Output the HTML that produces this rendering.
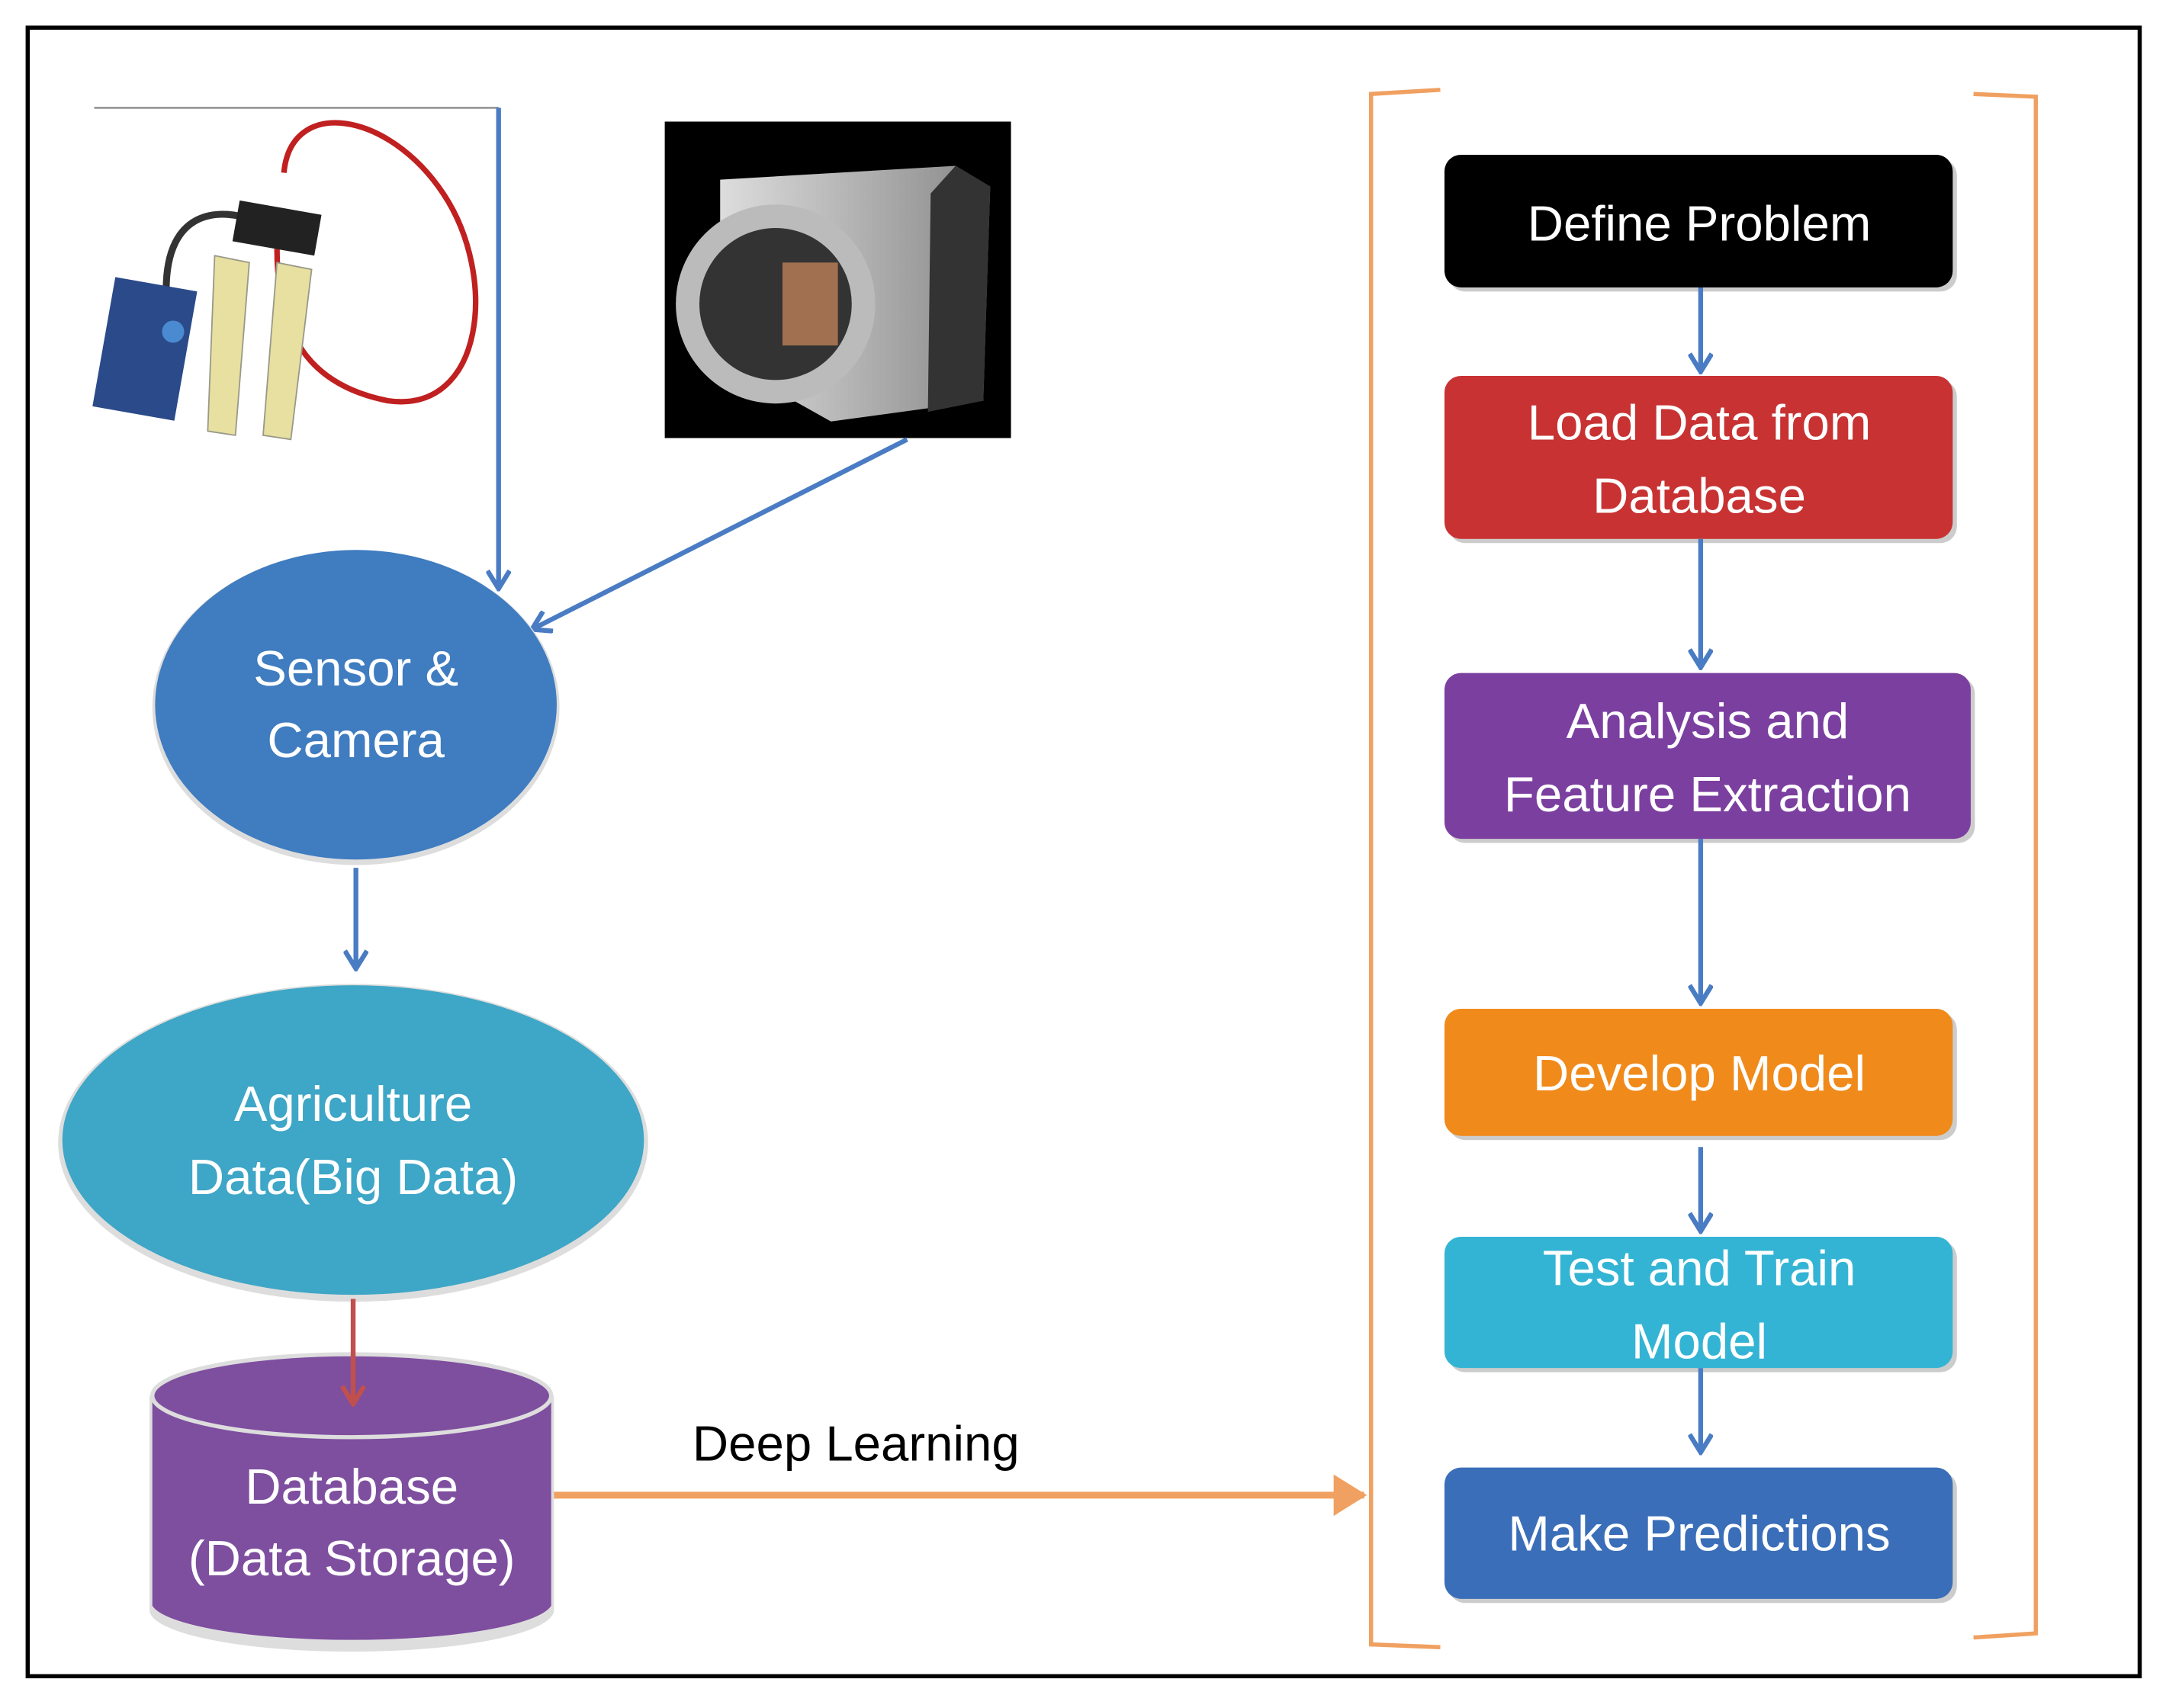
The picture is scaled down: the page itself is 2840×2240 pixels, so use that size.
<!DOCTYPE html>
<html><head><meta charset="utf-8"><style>
html,body{margin:0;padding:0;background:#fff;}
svg{display:block;}
text{font-family:"Liberation Sans",sans-serif;}
</style></head><body>
<svg width="2840" height="2240" viewBox="0 0 1564 1236" preserveAspectRatio="none" xmlns="http://www.w3.org/2000/svg">
<defs>
<marker id="ab" markerWidth="16" markerHeight="18" refX="13" refY="9" orient="auto" markerUnits="userSpaceOnUse"><path d="M1,1 L14,9 L1,17" fill="none" stroke="#4a7cc4" stroke-width="3.5"/></marker>
<marker id="ar" markerWidth="16" markerHeight="18" refX="13" refY="9" orient="auto" markerUnits="userSpaceOnUse"><path d="M1,1 L14,9 L1,17" fill="none" stroke="#c0504d" stroke-width="3.5"/></marker>
<marker id="ao" markerWidth="24" markerHeight="30" refX="22" refY="15" orient="auto" markerUnits="userSpaceOnUse"><path d="M0,0 L24,15 L0,30 Z" fill="#f0a060"/></marker>
<linearGradient id="cam" x1="0" x2="1"><stop offset="0" stop-color="#ddd"/><stop offset="1" stop-color="#888"/></linearGradient>
</defs>
<rect x="20" y="20" width="1525" height="1193" fill="#fff" stroke="#000" stroke-width="3"/>
<line x1="68" y1="78" x2="360" y2="78" stroke="#999" stroke-width="1.5"/>
<path d="M205,125 C210,70 280,80 320,140 C360,200 350,300 280,290 C230,280 200,250 200,180" fill="none" stroke="#c02020" stroke-width="4"/>
<path d="M120,210 C120,150 160,150 185,160" fill="none" stroke="#333" stroke-width="5"/>
<rect x="75" y="205" width="60" height="95" fill="#2a4a8a" transform="rotate(10 105 250)"/>
<circle cx="125" cy="240" r="8" fill="#4a8ad0"/>
<rect x="170" y="150" width="60" height="30" fill="#222" transform="rotate(10 200 165)"/>
<path d="M155,185 L180,190 L170,315 L150,312 Z" fill="#e8e0a0" stroke="#998" />
<path d="M200,190 L225,195 L210,318 L190,315 Z" fill="#e8e0a0" stroke="#998"/>
<rect x="480" y="88" width="250" height="229" fill="#000"/>
<path d="M520,130 L690,120 L715,135 L710,290 L600,305 L520,260 Z" fill="url(#cam)"/>
<path d="M690,120 L715,135 L710,290 L670,298 L672,140 Z" fill="#333"/>
<circle cx="560" cy="220" r="72" fill="#bbb"/>
<circle cx="560" cy="220" r="55" fill="#333"/>
<rect x="565" y="190" width="40" height="60" fill="#a07050"/>
<line x1="360" y1="78" x2="360" y2="425" stroke="#4a7cc4" stroke-width="3.5" marker-end="url(#ab)"/>
<line x1="655" y1="318" x2="385" y2="455" stroke="#4a7cc4" stroke-width="3.5" marker-end="url(#ab)"/>
<line x1="257" y1="628" x2="257" y2="700" stroke="#4a7cc4" stroke-width="3.5" marker-end="url(#ab)"/>
<ellipse cx="257" cy="512" rx="147" ry="114" fill="#ddd"/>
<ellipse cx="257" cy="510" rx="145" ry="112" fill="#3f7cc0"/>
<text x="257" y="496" font-size="36" fill="#fff" text-anchor="middle">Sensor &amp;</text>
<text x="257" y="548" font-size="36" fill="#fff" text-anchor="middle">Camera</text>
<ellipse cx="255" cy="827" rx="213" ry="115" fill="#ddd"/>
<ellipse cx="255" cy="825" rx="210" ry="112" fill="#3ea6c6"/>
<text x="255" y="811" font-size="36" fill="#fff" text-anchor="middle">Agriculture</text>
<text x="255" y="864" font-size="36" fill="#fff" text-anchor="middle">Data(Big Data)</text>
<path d="M108,1010 L108,1165 A145,30 0 0 0 400,1165 L400,1010 Z" fill="#ddd"/>
<path d="M110,1010 L110,1162 A145,28 0 0 0 398,1162 L398,1010 Z" fill="#7e4e9f"/>
<ellipse cx="254" cy="1010" rx="144" ry="30" fill="#7e4e9f" stroke="#ddd" stroke-width="3"/>
<line x1="255" y1="940" x2="255" y2="1015" stroke="#c0504d" stroke-width="3.5" marker-end="url(#ar)"/>
<text x="254" y="1088" font-size="36" fill="#fff" text-anchor="middle">Database</text>
<text x="254" y="1140" font-size="36" fill="#fff" text-anchor="middle">(Data Storage)</text>
<line x1="400" y1="1082" x2="985" y2="1082" stroke="#f0a060" stroke-width="5" marker-end="url(#ao)"/>
<text x="500" y="1057" font-size="36" fill="#000">Deep Learning</text>
<path d="M1040,65 L990,68 L990,1190 L1040,1192" fill="none" stroke="#f0a060" stroke-width="3"/>
<path d="M1425,68 L1470,70 L1470,1182 L1425,1185" fill="none" stroke="#f0a060" stroke-width="3"/>
<g font-size="36" fill="#fff" text-anchor="middle">
<rect x="1046" y="115" width="367" height="96" rx="12" fill="#ccc"/>
<rect x="1043" y="112" width="367" height="96" rx="12" fill="#000"/>
<text x="1227" y="174" fill="#fff">Define Problem</text>
<rect x="1046" y="275" width="367" height="118" rx="12" fill="#ccc"/>
<rect x="1043" y="272" width="367" height="118" rx="12" fill="#c83232"/>
<text x="1227" y="318" fill="#fff">Load Data from</text>
<text x="1227" y="371" fill="#fff">Database</text>
<rect x="1046" y="490" width="380" height="120" rx="12" fill="#ccc"/>
<rect x="1043" y="487" width="380" height="120" rx="12" fill="#7b3fa0"/>
<text x="1233" y="534" fill="#fff">Analysis and</text>
<text x="1233" y="587" fill="#fff">Feature Extraction</text>
<rect x="1046" y="733" width="367" height="92" rx="12" fill="#ccc"/>
<rect x="1043" y="730" width="367" height="92" rx="12" fill="#f08a1a"/>
<text x="1227" y="789" fill="#fff">Develop Model</text>
<rect x="1046" y="898" width="367" height="95" rx="12" fill="#ccc"/>
<rect x="1043" y="895" width="367" height="95" rx="12" fill="#34b4d4"/>
<text x="1227" y="930" fill="#fff">Test and Train</text>
<text x="1227" y="983" fill="#fff">Model</text>
<rect x="1046" y="1065" width="367" height="95" rx="12" fill="#ccc"/>
<rect x="1043" y="1062" width="367" height="95" rx="12" fill="#3a6eb8"/>
<text x="1227" y="1122" fill="#fff">Make Predictions</text>
</g>
<g stroke="#4a7cc4" stroke-width="3.5">
<line x1="1228" y1="208" x2="1228" y2="268" marker-end="url(#ab)"/>
<line x1="1228" y1="390" x2="1228" y2="482" marker-end="url(#ab)"/>
<line x1="1228" y1="607" x2="1228" y2="725" marker-end="url(#ab)"/>
<line x1="1228" y1="830" x2="1228" y2="890" marker-end="url(#ab)"/>
<line x1="1228" y1="990" x2="1228" y2="1050" marker-end="url(#ab)"/>
</g>
</svg>
</body></html>
